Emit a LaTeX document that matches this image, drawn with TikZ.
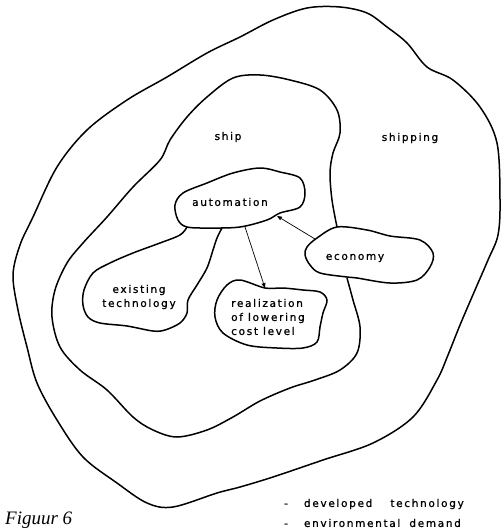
\documentclass[tikz,border=0pt]{standalone}
\usepackage{fontspec}
\usepackage{tikz}
\usetikzlibrary{arrows}
\newfontfamily\lettering[LetterSpace=16,FakeBold=1]{DejaVu Sans}
\newfontfamily\captionfont{Liberation Serif}

\begin{document}
\begin{tikzpicture}[x=1pt,y=-1pt,>=stealth',line join=round]
  \tikzstyle{blob}=[line width=1.5pt]
  \tikzstyle{link}=[->,line width=0.7pt,shorten >=0.5pt]
  \tikzstyle{lbl}=[font=\lettering\fontsize{10.5}{14}\selectfont,inner sep=0pt]

  \useasboundingbox (0,0) rectangle (501,532);

  % shipping
  \draw[blob] plot[smooth cycle,tension=0.55] coordinates {
    (307,8) (340,7) (367,13) (387,27) (407,43) (427,67) (453,80) (480,107)
    (497,143) (500,200) (498,235) (488,260) (475,290) (460,325) (448,355)
    (437,380) (413,417) (373,443) (323,460) (273,477) (240,487) (217,493)
    (173,507) (147,503) (117,483) (83,457) (57,420) (37,383) (27,347)
    (18,310) (13,275) (20,245) (33,217) (57,167) (87,130) (127,100)
    (167,77) (207,53) (240,37) (273,20)};

  % ship
  \draw[blob] plot[smooth,tension=0.55] coordinates {
    (337,227) (332,200) (330,173) (333,153) (340,133) (337,110) (320,90)
    (290,80) (260,75) (233,78) (207,97) (187,117) (170,140) (160,160)
    (133,187) (107,217) (83,243) (67,263) (55,290) (52,317) (60,347)
    (80,370) (107,390) (133,417) (153,430) (177,437) (207,430) (233,417)
    (260,401) (290,388) (315,380) (340,370) (357,353) (360,327) (353,300)
    (347,278)};

  % economy
  \draw[blob] plot[smooth cycle,tension=0.55] coordinates {
    (337,227) (367,230) (390,236) (420,240) (433,253) (430,267) (417,280)
    (390,283) (357,278) (347,277) (320,273) (310,265) (305,255) (307,247)
    (317,238)};

  % automation
  \draw[blob] plot[smooth cycle,tension=0.55] coordinates {
    (175,205) (183,193) (207,183) (233,173) (260,168) (280,172) (300,178)
    (305,193) (300,207) (280,213) (267,220) (240,227) (210,228) (187,227)
    (178,220)};

  % existing technology
  \draw[blob] plot[smooth,tension=0.55] coordinates {
    (187,227) (180,235) (160,243) (133,253) (110,263) (93,273) (84,290)
    (83,305) (88,317) (100,323) (127,326) (153,331) (165,330) (180,323)
    (187,313) (188,300) (197,285) (207,268) (213,250) (217,238) (222,228)};

  % realization
  \draw[blob] plot[smooth cycle,tension=0.55] coordinates {
    (265,288) (240,280) (227,285) (217,300) (215,317) (223,333) (247,345)
    (277,348) (303,348) (317,342) (320,327) (323,313) (327,300) (320,292)
    (303,290) (283,288)};

  \node[lbl] (ship)     at (228,137) {ship};
  \node[lbl] (shipping) at (410,138) {shipping};
  \node[lbl] (aut)      at (230,202) {automation};
  \node[lbl] (eco)      at (355,258) {economy};
  \node[lbl,align=center] (exi) at (139,297) {existing\\technology};
  \node[lbl,align=left,anchor=west] (rea) at (231,317) {realization\\of lowering\\cost level};

  \coordinate (autS) at (245,227);
  \coordinate (autE) at (277,216);
  \coordinate (reaN) at (265,288);
  \coordinate (ecoW) at (315,239);

  \draw[link] (autS) -- (reaN);
  \draw[link] (ecoW) -- (autE);

  \node[lbl,align=left,anchor=west,font=\lettering\fontsize{10.5}{20}\selectfont]
    (legend) at (284,513)
    {-\hspace{16pt}developed\hspace{18pt}technology\\
     -\hspace{16pt}environmental\hspace{9pt}demand};
  \node[anchor=west,inner sep=0pt,font=\captionfont\itshape\fontsize{19}{19}\selectfont]
    (fig) at (5,520) {Figuur 6};
\end{tikzpicture}
\end{document}
